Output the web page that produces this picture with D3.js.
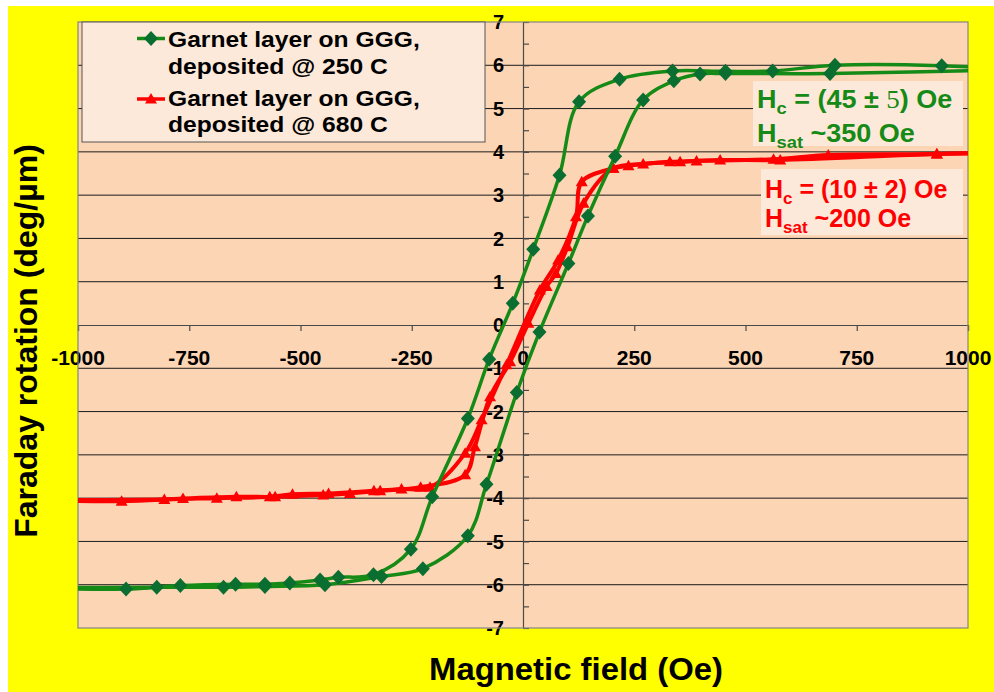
<!DOCTYPE html>
<html><head><meta charset="utf-8">
<script src="https://cdn.jsdelivr.net/npm/d3@7"></script>
<style>body{margin:0;background:#fff} text{font-family:"Liberation Sans",Arial,sans-serif;font-weight:bold;white-space:pre}</style>
</head><body>
<svg id="c" width="994" height="692"></svg>
<script>
// ---- data ----
const xTicks = [-1000,-750,-500,-250,0,250,500,750,1000];
const yTicks = [-7,-6,-5,-4,-3,-2,-1,0,1,2,3,4,5,6,7];
const seriesNames = ["Garnet layer on GGG,|deposited @ 250 C","Garnet layer on GGG,|deposited @ 680 C"];

// 250 C sample (green), field swept down then up
const greenDescH = [1100,941,701,561,455,336,217,126,82,23,-23,-76,-124,-204,-252,-336,-415,-456,-524,-580,-646,-770,-892,-1100];
const greenDescY = [5.90,5.99,6.00,5.87,5.86,5.87,5.68,5.16,3.46,1.75,0.50,-0.79,-2.16,-3.97,-5.18,-5.77,-5.83,-5.89,-5.96,-5.99,-5.99,-6.02,-6.10,-6.08];
const greenAscH  = [-1100,-823,-673,-580,-445,-318,-225,-124,-82,-14,37,102,146,207,270,339,398,455,690,1100];
const greenAscY  = [-6.07,-6.06,-6.06,-6.04,-6.00,-5.81,-5.63,-4.87,-3.68,-1.56,-0.16,1.42,2.52,3.90,5.20,5.64,5.80,5.81,5.81,5.90];

// 680 C sample (red)
const redDescH = [1100,930,686,563,390,330,237,203,132,119,79,38,-37,-93,-130,-209,-273,-335,-437,-518,-569,-688,-806,-1100];
const redDescY = [3.99,3.95,3.93,3.83,3.79,3.77,3.68,3.62,3.31,2.50,1.50,0.81,-0.92,-2.19,-2.96,-3.75,-3.79,-3.83,-3.89,-3.91,-3.97,-4.00,-4.03,-4.05];
const redAscH  = [-1100,-902,-764,-644,-557,-449,-389,-321,-230,-130,-108,-74,-29,12,53,74,100,136,203,270,353,443,578,930,1100];
const redAscY  = [-4.05,-4.07,-4.01,-3.97,-3.97,-3.93,-3.89,-3.83,-3.75,-3.46,-2.81,-1.66,-0.85,0.04,0.89,1.19,1.81,2.81,3.62,3.72,3.77,3.81,3.81,3.95,3.98];

// ---- layout ----
const L=78,R=968,T=22,B=628;
const GREEN="#168a16", GREENM="#0a6e30", RED="#ff0000";
const svg=d3.select("#c");
svg.append("rect").attr("x",8).attr("y",6).attr("width",986).attr("height",686).attr("fill","#ffff00");

const x=d3.scaleLinear().domain([-1000,1000]).range([L,R]);
const y=d3.scaleLinear().domain([-7,7]).range([B,T]);

svg.append("defs").append("clipPath").attr("id","clip").append("rect")
  .attr("x",L).attr("y",T).attr("width",R-L).attr("height",B-T);

svg.append("rect").attr("x",L).attr("y",T).attr("width",R-L).attr("height",B-T).attr("fill","#fcd5b5");

// gridlines
svg.append("g").selectAll("line").data(yTicks.filter(v=>v!==0&&Math.abs(v)<7)).join("line")
  .attr("x1",L).attr("x2",R).attr("y1",d=>y(d)).attr("y2",d=>y(d))
  .attr("stroke","#1a1a1a").attr("stroke-width",1);

// x axis
const xa=svg.append("g").attr("transform",`translate(0,${y(0)})`)
  .call(d3.axisBottom(x).tickValues(xTicks).tickSize(6).tickFormat(""));
xa.selectAll("path,line").attr("stroke","#4a4a4a").attr("stroke-width",1.2);

// y axis (minor ticks to the right)
const minor=d3.range(-7,7.01,0.5);
const ya=svg.append("g").attr("transform",`translate(${x(0)},0)`)
  .call(d3.axisRight(y).tickValues(minor).tickSize(6).tickSizeOuter(0).tickFormat(""));
ya.selectAll("path,line").attr("stroke","#4a4a4a").attr("stroke-width",1.2);

// tick labels
svg.append("g").selectAll("text").data(xTicks).join("text")
  .attr("x",d=>x(d)).attr("y",365).attr("text-anchor","middle")
  .attr("font-size",21).attr("fill","#000").text(d=>d);
svg.append("g").selectAll("text").data(yTicks).join("text")
  .attr("x",x(0)-19).attr("y",d=>y(d)).attr("dy","0.36em").attr("text-anchor","end")
  .attr("font-size",20).attr("fill","#000").text(d=>d);

// plot border
svg.append("rect").attr("x",L).attr("y",T).attr("width",R-L).attr("height",B-T)
  .attr("fill","none").attr("stroke","#858585").attr("stroke-width",1.2);

// annotation boxes
svg.append("rect").attr("x",753).attr("y",81).attr("width",210).attr("height",65).attr("fill","#fde9d9");
svg.append("rect").attr("x",761).attr("y",169).attr("width",202).attr("height",66).attr("fill","#fde9d9");

// series
const line=d3.line().x(d=>x(d[0])).y(d=>y(d[1])).curve(d3.curveCatmullRom.alpha(0.5));
const zip=(a,b)=>a.map((v,i)=>[v,b[i]]);
const diamond="M0,-7.5L7,0L0,7.5L-7,0Z";
const tri="M0,-6L6,4.5L-6,4.5Z";
const plot=svg.append("g").attr("clip-path","url(#clip)");
function drawSeries(branches,color,mcolor,width,shape){
  branches.forEach(p=>{
    plot.append("path").datum(p).attr("d",line).attr("fill","none")
      .attr("stroke",color).attr("stroke-width",width).attr("stroke-linejoin","round");
  });
  branches.forEach(p=>{
    plot.append("g").selectAll("path").data(p.filter(d=>Math.abs(d[0])<=1000)).join("path")
      .attr("d",shape).attr("transform",d=>`translate(${x(d[0])},${y(d[1])})`).attr("fill",mcolor);
  });
}
drawSeries([zip(redDescH,redDescY),zip(redAscH,redAscY)],RED,RED,4,tri);
drawSeries([zip(greenDescH,greenDescY),zip(greenAscH,greenAscY)],GREEN,GREENM,3.5,diamond);

// legend
svg.append("rect").attr("x",82).attr("y",22).attr("width",403).attr("height",120)
  .attr("fill","#fde9d9").attr("stroke","#555").attr("stroke-width",1);
const leg=[{c:GREEN,m:GREENM,s:diamond,my:38.5,b:[47,74]},{c:RED,m:RED,s:tri,my:99,b:[106,132]}];
leg.forEach((e,i)=>{
  svg.append("line").attr("x1",137).attr("x2",165).attr("y1",e.my).attr("y2",e.my).attr("stroke",e.c).attr("stroke-width",3.5);
  svg.append("path").attr("d",e.s).attr("transform",`translate(151,${e.my})`).attr("fill",e.m);
  seriesNames[i].split("|").forEach((t,j)=>{
    svg.append("g").attr("transform",`translate(168,${e.b[j]}) scale(1.12,1)`)
      .append("text").attr("font-size",22).attr("fill","#000").text(t);
  });
});

// annotations
function annot(x0,y0,sx,size,color,parts){
  const t=svg.append("g").attr("transform",`translate(${x0},${y0}) scale(${sx},1)`)
    .append("text").attr("font-size",size).attr("fill",color);
  parts.forEach(p=>{
    const s=t.append("tspan").text(p.t);
    if(p.sub){s.attr("font-size",size*0.68).attr("dy",6);} 
    if(p.up){s.attr("dy",-6);}
    if(p.serif){s.attr("font-family","'Liberation Serif','Times New Roman',serif").attr("font-weight","normal");}
  });
}
annot(757,108,1.08,25,GREEN,[{t:"H"},{t:"c",sub:true},{t:" = (45 ± ",up:true},{t:"5",serif:true},{t:") Oe"}]);
annot(757,142,1.08,25,GREEN,[{t:"H"},{t:"sat",sub:true},{t:" ~350 Oe",up:true}]);
annot(765,198,1.0,25,RED,[{t:"H"},{t:"c",sub:true},{t:" = (10 ± 2) Oe",up:true}]);
annot(765,227,1.0,25,RED,[{t:"H"},{t:"sat",sub:true},{t:" ~200 Oe",up:true}]);

// axis titles
svg.append("g").attr("transform","translate(576,680) scale(1.06,1)")
  .append("text").attr("text-anchor","middle").attr("font-size",31).attr("fill","#000").text("Magnetic field (Oe)");
svg.append("g").attr("transform","translate(37,341) rotate(-90)")
  .append("text").attr("text-anchor","middle").attr("font-size",32).attr("fill","#000").text("Faraday rotation (deg/µm)");
</script>
</body></html>
